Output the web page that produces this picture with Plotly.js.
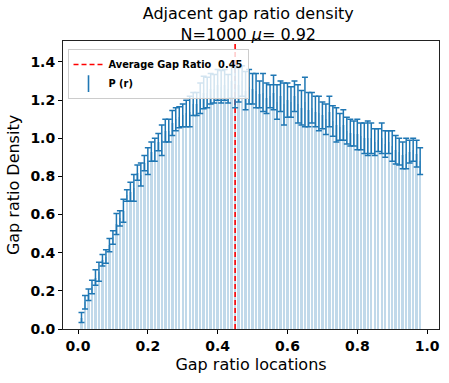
<!DOCTYPE html>
<html>
<head>
<meta charset="utf-8">
<script src="https://cdn.plot.ly/plotly-3.0.1.min.js"></script>
<style>
  html, body { margin: 0; padding: 0; background: #fff; }
  #chart { width: 449px; height: 383px; }
</style>
</head>
<body>
<div id="chart"></div>
<script>
// bin centres of the gap ratio histogram
const gapLocations = [
  0.01, 0.02, 0.03, 0.04, 0.05, 0.06, 0.07, 0.08, 0.09, 0.10,
  0.11, 0.12, 0.13, 0.14, 0.15, 0.16, 0.17, 0.18, 0.19, 0.20,
  0.21, 0.22, 0.23, 0.24, 0.25, 0.26, 0.27, 0.28, 0.29, 0.30,
  0.31, 0.32, 0.33, 0.34, 0.35, 0.36, 0.37, 0.38, 0.39, 0.40,
  0.41, 0.42, 0.43, 0.44, 0.45, 0.46, 0.47, 0.48, 0.49, 0.50,
  0.51, 0.52, 0.53, 0.54, 0.55, 0.56, 0.57, 0.58, 0.59, 0.60,
  0.61, 0.62, 0.63, 0.64, 0.65, 0.66, 0.67, 0.68, 0.69, 0.70,
  0.71, 0.72, 0.73, 0.74, 0.75, 0.76, 0.77, 0.78, 0.79, 0.80,
  0.81, 0.82, 0.83, 0.84, 0.85, 0.86, 0.87, 0.88, 0.89, 0.90,
  0.91, 0.92, 0.93, 0.94, 0.95, 0.96, 0.97, 0.98,
];

// mean density P(r) per bin
const gapDensity = [
  0.06, 0.14, 0.18, 0.22, 0.27, 0.30, 0.36, 0.38, 0.44, 0.48,
  0.55, 0.58, 0.62, 0.70, 0.72, 0.74, 0.82, 0.81, 0.87, 0.88,
  0.93, 0.94, 0.98, 0.99, 1.04, 1.04, 1.08, 1.10, 1.11, 1.12,
  1.13, 1.14, 1.18, 1.18, 1.21, 1.24, 1.24, 1.26, 1.26, 1.28,
  1.27, 1.28, 1.26, 1.30, 1.27, 1.28, 1.30, 1.25, 1.27, 1.26,
  1.25, 1.23, 1.24, 1.21, 1.22, 1.24, 1.19, 1.22, 1.18, 1.20,
  1.19, 1.22, 1.18, 1.16, 1.19, 1.15, 1.16, 1.14, 1.13, 1.12,
  1.10, 1.14, 1.09, 1.07, 1.06, 1.07, 1.04, 1.03, 1.025, 1.02,
  1.01, 1.00, 1.00, 1.00, 0.98, 0.99, 1.00, 0.97, 0.98, 0.96,
  0.94, 0.93, 0.91, 0.92, 0.93, 0.94, 0.92, 0.88,
];

// standard deviation per bin
const gapError = [
  0.026, 0.035, 0.030, 0.035, 0.040, 0.050, 0.030, 0.035, 0.035, 0.035,
  0.055, 0.040, 0.060, 0.030, 0.050, 0.070, 0.040, 0.060, 0.040, 0.070,
  0.050, 0.060, 0.045, 0.080, 0.060, 0.060, 0.065, 0.060, 0.055, 0.060,
  0.070, 0.080, 0.060, 0.060, 0.080, 0.085, 0.080, 0.080, 0.075, 0.080,
  0.085, 0.080, 0.075, 0.090, 0.110, 0.090, 0.080, 0.100, 0.090, 0.080,
  0.090, 0.070, 0.100, 0.080, 0.060, 0.090, 0.090, 0.080, 0.110, 0.090,
  0.080, 0.080, 0.100, 0.090, 0.130, 0.090, 0.080, 0.080, 0.090, 0.070,
  0.080, 0.080, 0.080, 0.090, 0.070, 0.080, 0.070, 0.070, 0.065, 0.080,
  0.070, 0.080, 0.090, 0.080, 0.070, 0.060, 0.080, 0.070, 0.060, 0.080,
  0.075, 0.070, 0.070, 0.080, 0.060, 0.060, 0.070, 0.070,
];

const avgGapRatio = 0.45;
const nLevels = 1000;
const mu = 0.92;

const xRange = [-0.043, 1.034];
const yRange = [0, 1.51];

const boldTick = { family: 'DejaVu Sans', size: 14, color: '#000', weight: 'bold' };
const plainText = { family: 'DejaVu Sans', size: 16, color: '#000' };

const data = [
  {
    x: gapLocations,
    y: gapDensity,
    type: 'bar',
    width: 0.007,
    marker: { color: 'rgba(31,119,180,0.28)', line: { width: 0 } },
    showlegend: false,
    hoverinfo: 'skip',
  },
  {
    x: [avgGapRatio, avgGapRatio],
    y: yRange,
    type: 'scatter',
    mode: 'lines',
    name: 'Average Gap Ratio  ' + avgGapRatio.toFixed(2),
    line: { color: '#ff0000', width: 1.6, dash: '5px,3px' },
  },
  {
    x: gapLocations,
    y: gapDensity,
    type: 'scatter',
    mode: 'markers',
    marker: { size: 0, opacity: 0 },
    error_y: {
      type: 'data',
      array: gapError,
      visible: true,
      color: '#1f77b4',
      thickness: 1.5,
      width: 3,
    },
    showlegend: false,
  },
  {
    // legend-only entry for the error bars
    x: [null],
    y: [null],
    type: 'scatter',
    mode: 'markers',
    name: 'P (r)',
    marker: {
      symbol: 'line-ns-open',
      size: 12,
      color: '#1f77b4',
      line: { color: '#1f77b4', width: 1.6 },
    },
  },
];

const layout = {
  width: 449,
  height: 383,
  margin: { l: 63, r: 10, t: 41, b: 54 },
  paper_bgcolor: '#fff',
  plot_bgcolor: '#fff',
  font: { family: 'DejaVu Sans', color: '#000' },
  bargap: 0,
  title: {
    text: 'Adjacent gap ratio density<br>N=' + nLevels + ' <i>μ</i>= ' + mu.toFixed(2),
    font: { family: 'DejaVu Sans', size: 16, color: '#000' },
    x: 0.553,
    xanchor: 'center',
    yref: 'container',
    y: 0.951,
    yanchor: 'bottom',
  },
  xaxis: {
    range: xRange,
    tickvals: [0, 0.2, 0.4, 0.6, 0.8, 1.0],
    tickformat: '.1f',
    tickfont: boldTick,
    ticks: 'outside',
    ticklen: 4,
    tickcolor: '#000',
    showgrid: false,
    zeroline: false,
    showline: true,
    mirror: true,
    linecolor: '#222',
    linewidth: 1,
    title: { text: 'Gap ratio locations', font: plainText, standoff: 6 },
  },
  yaxis: {
    range: yRange,
    tickvals: [0, 0.2, 0.4, 0.6, 0.8, 1.0, 1.2, 1.4],
    tickformat: '.1f',
    tickfont: boldTick,
    ticks: 'outside',
    ticklen: 4,
    tickcolor: '#000',
    showgrid: false,
    zeroline: false,
    showline: true,
    mirror: true,
    linecolor: '#222',
    linewidth: 1,
    title: { text: 'Gap ratio Density', font: plainText, standoff: 6 },
  },
  legend: {
    x: 0.012,
    y: 0.972,
    xanchor: 'left',
    yanchor: 'top',
    bgcolor: 'rgba(255,255,255,0.8)',
    bordercolor: '#cccccc',
    borderwidth: 1,
    font: { family: 'DejaVu Sans', size: 9.8, color: '#000', weight: 'bold' },
    tracegroupgap: 0,
    itemwidth: 30,
  },
};

Plotly.newPlot('chart', data, layout, { displayModeBar: false, responsive: false });
</script>
</body>
</html>
